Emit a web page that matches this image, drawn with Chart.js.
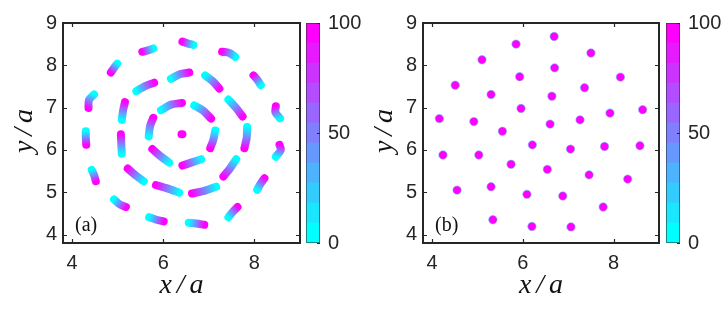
<!DOCTYPE html>
<html>
<head>
<meta charset="utf-8">
<script src="https://cdn.jsdelivr.net/npm/chart.js@4.4.1/dist/chart.umd.min.js"></script>
<style>
  html, body { margin: 0; padding: 0; background: #fff; }
  #wrap { position: relative; width: 725px; height: 312px; overflow: hidden; }
  #wrap canvas { position: absolute; top: 0; }
</style>
</head>
<body>
<div id="wrap">
  <canvas id="panelA" width="362" height="312" style="left:0"></canvas>
  <canvas id="cbarA" width="56" height="312" style="left:306px"></canvas>
  <canvas id="panelB" width="362" height="312" style="left:362px"></canvas>
  <canvas id="cbarB" width="59" height="312" style="left:666px"></canvas>
</div>
<script>
// axes
const xTicks = [4, 6, 8];
const yTicks = [4, 5, 6, 7, 8, 9];
const cbarTicks = [0, 50, 100];
const trailTimes = [0, 50, 100];

// panel (a): trails as [start, middle, end] points, time 0 -> 100
const centreTrail = [[[6.40, 6.37], [6.41, 6.37], [6.42, 6.37]]];
const innerTrails = [
  [[5.95, 6.94], [6.17, 7.07], [6.41, 7.11]],
  [[6.68, 7.05], [6.86, 6.94], [7.05, 6.74]],
  [[7.14, 6.46], [7.10, 6.24], [7.03, 6.04]],
  [[6.83, 5.78], [6.61, 5.70], [6.42, 5.63]],
  [[6.13, 5.70], [5.93, 5.86], [5.76, 6.02]],
  [[5.68, 6.32], [5.71, 6.56], [5.78, 6.76]]
];
const middleTrails = [
  [[6.17, 7.68], [6.36, 7.79], [6.57, 7.83]],
  [[6.92, 7.76], [7.08, 7.63], [7.23, 7.45]],
  [[7.43, 7.19], [7.60, 6.99], [7.74, 6.79]],
  [[7.84, 6.54], [7.83, 6.28], [7.78, 6.04]],
  [[7.60, 5.78], [7.46, 5.56], [7.32, 5.37]],
  [[7.16, 5.13], [6.90, 5.03], [6.63, 4.97]],
  [[6.35, 4.99], [6.09, 5.09], [5.84, 5.17]],
  [[5.57, 5.26], [5.38, 5.41], [5.22, 5.56]],
  [[5.09, 5.91], [5.08, 6.12], [5.07, 6.37]],
  [[5.09, 6.71], [5.12, 6.94], [5.16, 7.13]],
  [[5.41, 7.39], [5.60, 7.51], [5.80, 7.59]]
];
const outerTrails = [
  [[6.66, 8.48], [6.53, 8.52], [6.42, 8.56]],
  [[5.78, 8.40], [5.68, 8.36], [5.54, 8.32]],
  [[4.99, 8.04], [4.92, 7.94], [4.85, 7.83]],
  [[4.48, 7.31], [4.37, 7.18], [4.36, 6.99]],
  [[4.30, 6.44], [4.30, 6.32], [4.31, 6.12]],
  [[4.43, 5.53], [4.48, 5.41], [4.52, 5.26]],
  [[4.92, 4.83], [5.05, 4.71], [5.18, 4.65]],
  [[5.69, 4.41], [5.85, 4.35], [6.01, 4.31]],
  [[6.56, 4.28], [6.72, 4.26], [6.90, 4.23]],
  [[7.43, 4.41], [7.52, 4.53], [7.63, 4.65]],
  [[8.06, 5.06], [8.14, 5.21], [8.22, 5.33]],
  [[8.47, 5.84], [8.58, 6.00], [8.55, 6.12]],
  [[8.56, 6.75], [8.46, 6.89], [8.47, 7.03]],
  [[8.14, 7.53], [8.07, 7.65], [7.98, 7.76]],
  [[7.58, 8.20], [7.45, 8.29], [7.29, 8.32]]
];

// panel (b): final positions
const latticeX = [6.69, 5.85, 7.50, 5.10, 6.70, 5.93, 8.15, 4.51, 5.30, 7.36, 6.64, 5.96, 4.16, 4.92, 7.92, 8.64, 7.26, 6.60, 5.55,
  6.21, 4.24, 5.03, 7.05, 7.80, 8.58, 5.74, 6.54, 7.46, 8.31, 4.55, 5.30, 6.09, 6.88, 7.77, 5.34, 6.20, 7.06];
const latticeY = [8.68, 8.50, 8.29, 8.13, 7.94, 7.73, 7.72, 7.53, 7.31, 7.47, 7.27, 6.98, 6.74, 6.67, 6.87, 6.95, 6.71, 6.61, 6.44,
  6.12, 5.88, 5.88, 6.02, 6.08, 6.10, 5.66, 5.54, 5.41, 5.31, 5.05, 5.13, 4.95, 4.91, 4.65, 4.35, 4.19, 4.18];

const INK = '#262626';
const SANS = '"Liberation Sans", Arial, sans-serif';
const SERIF = '"Liberation Serif", "Times New Roman", serif';

// MATLAB "cool" colormap, t in 0..1
function cool(t) {
  const r = Math.round(255 * t), g = Math.round(255 * (1 - t));
  return `rgb(${r},${g},255)`;
}

function trailColor(c) {
  const chart = c.chart, pts = c.dataset.data;
  if (!chart.chartArea) return cool(1);
  const xs = chart.scales.x, ys = chart.scales.y;
  const a = pts[0], b = pts[pts.length - 1];
  const x0 = xs.getPixelForValue(a.x), y0 = ys.getPixelForValue(a.y);
  const x1 = xs.getPixelForValue(b.x), y1 = ys.getPixelForValue(b.y);
  if (Math.hypot(x1 - x0, y1 - y0) < 2) return cool(1);
  const g = chart.ctx.createLinearGradient(x0, y0, x1, y1);
  trailTimes.forEach((t) => g.addColorStop(t / 100, cool(t / 100)));
  return g;
}

function trailDataset(tr) {
  return {
    type: 'line',
    data: tr.map((p) => ({ x: p[0], y: p[1] })),
    showLine: true,
    borderColor: trailColor,
    borderWidth: 8,
    borderCapStyle: 'round',
    borderJoinStyle: 'round',
    tension: 0.3,
    pointRadius: 0
  };
}

function spacedText(ctx, text, x, y, spacing) {
  ctx.letterSpacing = spacing + 'px';
  ctx.textAlign = 'center';
  ctx.fillText(text, x + spacing / 2, y);
  ctx.letterSpacing = '0px';
}

const frame = {
  id: 'frame',
  afterDraw(chart, args, opts) {
    const { ctx, chartArea: a, scales: { x, y } } = chart;
    ctx.save();
    ctx.strokeStyle = INK;
    ctx.lineWidth = 1.2;
    ctx.beginPath();
    x.ticks.forEach((t) => {
      const px = Math.round(x.getPixelForValue(t.value)) + 0.5;
      ctx.moveTo(px, a.bottom); ctx.lineTo(px, a.bottom - 4);
      ctx.moveTo(px, a.top); ctx.lineTo(px, a.top + 4);
    });
    y.ticks.forEach((t) => {
      const py = Math.round(y.getPixelForValue(t.value)) + 0.5;
      ctx.moveTo(a.left, py); ctx.lineTo(a.left + 4, py);
      ctx.moveTo(a.right, py); ctx.lineTo(a.right - 4, py);
    });
    ctx.stroke();
    ctx.lineWidth = 2;
    ctx.strokeRect(a.left, a.top, a.right - a.left, a.bottom - a.top);

    // panel tag
    ctx.fillStyle = '#111';
    ctx.font = '20px ' + SERIF;
    ctx.textAlign = 'left';
    ctx.textBaseline = 'alphabetic';
    ctx.fillText(opts.tag, a.left + 12, a.bottom - 12);

    // axis titles
    ctx.font = 'italic 28px ' + SERIF;
    spacedText(ctx, 'x/a', (a.left + a.right) / 2, 293, 5);
    ctx.translate(a.left - 31, (a.top + a.bottom) / 2 - 2);
    ctx.rotate(-Math.PI / 2);
    spacedText(ctx, 'y/a', 0, 0, 5);
    ctx.restore();
  }
};

function panel(id, datasets, yAxisWidth, padRight, tag) {
  return new Chart(document.getElementById(id), {
    type: 'scatter',
    data: { datasets },
    options: {
      responsive: false,
      animation: false,
      devicePixelRatio: 1,
      layout: { padding: { left: 0, right: padRight, top: 23, bottom: 0 } },
      plugins: { legend: { display: false }, tooltip: { enabled: false }, frame: { tag } },
      scales: {
        x: {
          min: 3.8, max: 9.0,
          afterBuildTicks: (s) => { s.ticks = xTicks.map((v) => ({ value: v })); },
          afterFit: (s) => { s.height = 69; },
          grid: { display: false, drawTicks: false },
          border: { display: false },
          ticks: { color: INK, padding: 8, font: { family: SANS, size: 20 } }
        },
        y: {
          min: 3.8, max: 9.0,
          afterBuildTicks: (s) => { s.ticks = yTicks.map((v) => ({ value: v })); },
          afterFit: (s) => { s.width = yAxisWidth; },
          grid: { display: false, drawTicks: false },
          border: { display: false },
          ticks: { color: INK, padding: 6, font: { family: SANS, size: 20 } }
        }
      }
    },
    plugins: [frame]
  });
}

const cbarFrame = {
  id: 'cbarFrame',
  afterDraw(chart) {
    const { ctx, chartArea: a, scales: { y } } = chart;
    ctx.save();
    ctx.strokeStyle = 'rgba(38,38,38,0.55)';
    ctx.lineWidth = 1;
    ctx.strokeRect(a.left + 0.5, a.top + 0.5, a.right - a.left - 1, a.bottom - a.top - 1);
    ctx.strokeStyle = INK;
    ctx.beginPath();
    y.ticks.forEach((t) => {
      const py = Math.round(y.getPixelForValue(t.value)) + 0.5;
      ctx.moveTo(a.right, py); ctx.lineTo(a.right - 3, py);
    });
    ctx.stroke();
    ctx.restore();
  }
};

function colorbar(id, axisWidth) {
  const bands = 11;
  const datasets = [];
  for (let i = 0; i < bands; i++) {
    datasets.push({
      data: [100 / bands],
      backgroundColor: cool(i / (bands - 1)),
      barPercentage: 1,
      categoryPercentage: 1,
      borderWidth: 0
    });
  }
  return new Chart(document.getElementById(id), {
    type: 'bar',
    data: { labels: [''], datasets },
    options: {
      responsive: false,
      animation: false,
      devicePixelRatio: 1,
      layout: { padding: { left: 0, right: 0, top: 23, bottom: 69 } },
      plugins: { legend: { display: false }, tooltip: { enabled: false } },
      scales: {
        x: { display: false, stacked: true },
        y: {
          stacked: true, min: 0, max: 100, position: 'right',
          afterBuildTicks: (s) => { s.ticks = cbarTicks.map((v) => ({ value: v })); },
          afterFit: (s) => { s.width = axisWidth; },
          grid: { display: false, drawTicks: false },
          border: { display: false },
          ticks: { color: INK, padding: 8, font: { family: SANS, size: 20 } }
        }
      }
    },
    plugins: [cbarFrame]
  });
}

const trailsA = [...outerTrails, ...middleTrails, ...innerTrails, ...centreTrail].map(trailDataset);
panel('panelA', trailsA, 63, 62, '(a)');
colorbar('cbarA', 42);

panel('panelB', [{
  data: latticeX.map((x, i) => ({ x, y: latticeY[i] })),
  pointRadius: 4.2,
  pointBackgroundColor: cool(1),
  pointBorderColor: 'rgba(90,190,255,0.7)',
  pointBorderWidth: 0.8
}], 61, 65, '(b)');
colorbar('cbarB', 45);
</script>
</body>
</html>
